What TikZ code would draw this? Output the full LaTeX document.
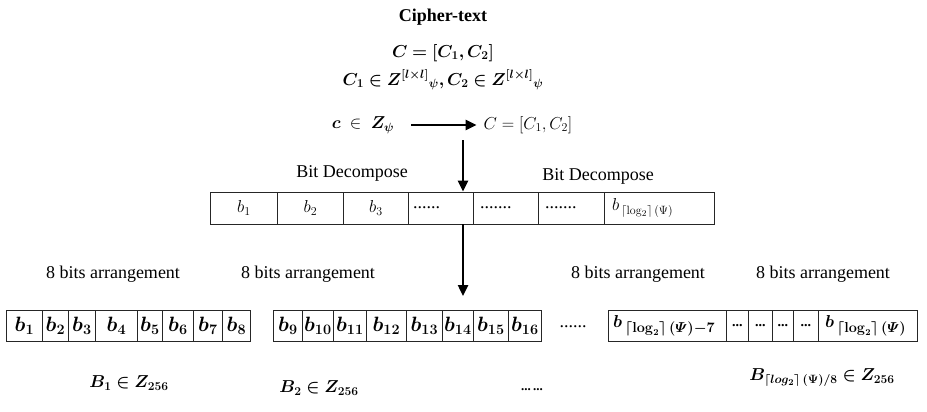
\documentclass[tikz,border=0pt]{standalone}
\usepackage{amsmath}
\usepackage{bm}
\usepackage[no-math]{fontspec}
\setmainfont{Liberation Serif}
\usetikzlibrary{arrows.meta}

\begin{document}
\begin{tikzpicture}[x=1pt, y=-1pt,
  font=\fontsize{18}{21}\selectfont,
  txt/.style={inner sep=2pt},
  mcell/.style={draw=black!85, line width=0.8pt, rectangle, inner sep=0pt,
    minimum height=32pt, anchor=west},
  bcell/.style={draw=black!85, line width=0.8pt, rectangle, inner sep=0pt,
    minimum height=31pt, anchor=west, font=\fontsize{20}{24}\selectfont},
  flow/.style={line width=2.4pt, -{Triangle[length=11pt,width=10pt]}},
  dots/.style={inner sep=0pt, anchor=west}]
\useasboundingbox (0,0) rectangle (927,412);

% heading and ciphertext definition
\node[txt, font=\fontsize{18}{21}\selectfont\bfseries] (title) at (443,17) {Cipher-text};
\node[txt] (eqC) at (443,53) {$\bm{C=[C_1,C_2]}$};
\node[txt] (eqCC) at (443,80)
  {$\bm{C_1\in {Z^{[l\times l]}}_{\psi},C_2\in {Z^{[l\times l]}}_{\psi}}$};

% plaintext element mapped to the ciphertext pair
\node[txt] (cz) at (363,125) {$\bm{c}\ \in\ \bm{Z_{\psi}}$};
\node[txt] (cc) at (528,125) {$C=[C_1,C_2]$};
\draw[flow, shorten <=15pt, shorten >=5pt] (cz.east) -- (cc.west);

% bit decomposition row
\node[txt] (bd1) at (352,173) {Bit Decompose};
\node[txt] (bd2) at (598,176) {Bit Decompose};

\node[mcell, minimum width=67pt]  (m1) at (210,208) {$b_1$};
\node[mcell, minimum width=66pt]  (m2) at (277,208) {$b_2$};
\node[mcell, minimum width=65pt]  (m3) at (343,208) {$b_3$};
\node[mcell, minimum width=65pt]  (m4) at (408,208) {};
\node[mcell, minimum width=65pt]  (m5) at (473,208) {};
\node[mcell, minimum width=66pt]  (m6) at (538,208) {};
\node[mcell, minimum width=110pt] (m7) at (604,208) {};
\node[dots] (d4) at ([xshift=5pt]m4.west) {......};
\node[dots] (d5) at ([xshift=7pt]m5.west) {.......};
\node[dots] (d6) at ([xshift=7pt]m6.west) {.......};
\node[dots] (t7) at ([xshift=8pt]m7.west) {$b_{\,\lceil\log_2\rceil\,(\Psi)}$};

% arrows through the decomposition row
\coordinate (down) at (463,140);
\coordinate (rowin) at (463,296);
\draw[flow] (down) -- (down |- m4.north);
\draw[flow] (down |- m4.south) -- (rowin);

% byte grouping labels
\node[txt] (g1) at (113,274) {8 bits arrangement};
\node[txt] (g2) at (308,274) {8 bits arrangement};
\node[txt] (g3) at (638,274) {8 bits arrangement};
\node[txt] (g4) at (823,274) {8 bits arrangement};

% first byte
\foreach \xl/\xr/\lab [count=\i] in
  {6/42/1, 42/68/2, 68/95/3, 95/137/4, 137/162/5, 162/193/6, 193/222/7, 222/250/8}
  \node[bcell, minimum width={(\xr-\xl)*1pt}] (p\i) at (\xl,325.5) {$\bm{b_{\lab}}$};

% second byte
\foreach \xl/\xr/\lab [count=\i] in
  {273/302/9, 302/333/10, 333/366/11, 366/406/12, 406/442/13, 442/473/14, 473/508/15, 508/541/16}
  \node[bcell, minimum width={(\xr-\xl)*1pt}] (r\i) at (\xl,325.5) {$\bm{b_{\lab}}$};

\node[txt] (gap) at (573,327) {......};

% last byte
\foreach \xl/\xr [count=\i] in
  {608/726, 726/748, 748/772, 772/793, 793/818, 818/917}
  \node[bcell, minimum width={(\xr-\xl)*1pt}] (q\i) at (\xl,325.5) {};
\node[dots, font=\fontsize{19}{23}\selectfont] (qa) at ([xshift=5pt]q1.west)
  {$\bm{b_{\,\lceil\log_2\rceil\,(\varPsi)-7}}$};
\foreach \i in {2,...,5}
  \node[inner sep=0pt, font=\fontsize{14}{16}\selectfont\bfseries] (qd\i) at (q\i.center) {...};
\node[dots, font=\fontsize{19}{23}\selectfont] (qb) at ([xshift=7pt]q6.west)
  {$\bm{b_{\,\lceil\log_2\rceil\,(\varPsi)}}$};

% byte values
\node[txt] (B1) at (129,383) {$\bm{B_1\in Z_{256}}$};
\node[txt] (B2) at (319,388) {$\bm{B_2\in Z_{256}}$};
\node[txt, font=\fontsize{13}{15}\selectfont] (Bd) at (532,390) {\textbf{...\,...}};
\node[txt] (Bn) at (822,378) {$\bm{B_{\lceil log_2\rceil\,(\Psi)/8}\in Z_{256}}$};
\end{tikzpicture}
\end{document}
